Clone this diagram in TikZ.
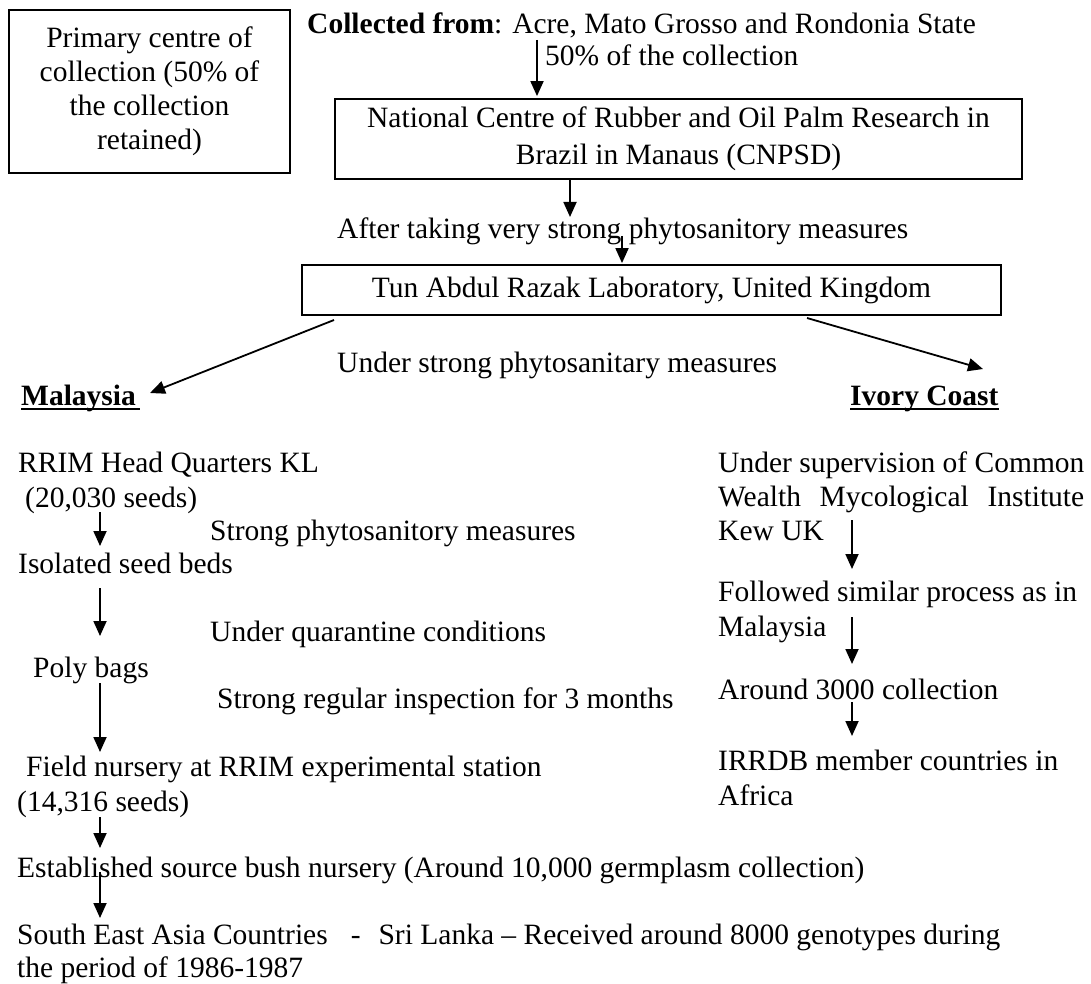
\documentclass[tikz,border=0pt]{standalone}
\usepackage{fontspec}
\setmainfont{Liberation Serif}
\usetikzlibrary{arrows.meta,positioning,calc}
\tikzset{
  txt/.style={anchor=base west, inner sep=0pt, font=\fontsize{29.5}{34}\selectfont},
  boxed/.style={draw, line width=1.8pt, inner sep=0pt, align=center,
                font=\fontsize{29.5}{34}\selectfont},
  arr/.style={-{Triangle[length=15pt,width=13pt]}, line width=1.8pt},
  uline/.style={line width=2.2pt},
}
\begin{document}
\begin{tikzpicture}[x=1pt,y=-1pt]
\useasboundingbox (0,0) rectangle (1091,984);
% top part
\node[boxed, minimum width=281pt, minimum height=163pt] (prim) at (149.5,91.5) {Primary centre of\\collection (50\% of\\the collection\\retained)};
\node[txt] (coll) at (307,34) {\textbf{Collected from}: Acre, Mato Grosso and Rondonia State};
\node[txt] (pct) at (545,66) {50\% of the collection};
\node[boxed, minimum width=687pt, minimum height=80pt] (cnp) at (678.5,139) {National Centre of Rubber and Oil Palm Research in\\[3pt]Brazil in Manaus (CNPSD)};
\node[txt] (after) at (337,238) {After taking very strong phytosanitory measures};
\node[boxed, minimum width=699pt, minimum height=50pt] (tun) at (651.5,290) {Tun Abdul Razak Laboratory, United Kingdom};
\node[txt] (ustrong) at (337,372) {Under strong phytosanitary measures};
\node[txt] (mal) at (21,405) {\textbf{Malaysia}};
\node[txt] (ivc) at (850,405) {\textbf{Ivory Coast}};
\draw[uline] ($(mal.base west)+(0,4)$) -- ($(mal.base east)+(4,4)$);
\draw[uline] ($(ivc.base west)+(0,4)$) -- ($(ivc.base east)+(0,4)$);

\coordinate (c1) at (537,40);
\coordinate (c2) at (570,217);
\coordinate (c3) at (622,236);
\draw[arr, shorten >=2pt] (c1) -- (cnp.north -| c1);
\draw[arr] (cnp.south -| c2) -- (c2);
\draw[arr, shorten >=1pt] (c3) -- (tun.north -| c3);
\coordinate (m0) at (334,320);
\coordinate (m1) at (150,393);
\coordinate (v0) at (807,318);
\coordinate (v1) at (983,369);
\draw[arr] (m0) -- (m1);
\draw[arr] (v0) -- (v1);

% Malaysia column
\node[txt] (rrim) at (18,472) {RRIM Head Quarters KL};
\node[txt] (rrimb) at (25,507) {(20,030 seeds)};
\node[txt] (sphyto) at (210,540) {Strong phytosanitory measures};
\node[txt] (iso) at (18,573) {Isolated seed beds};
\node[txt] (quar) at (210,641) {Under quarantine conditions};
\node[txt] (poly) at (33,677) {Poly bags};
\node[txt] (sreg) at (217,708) {Strong regular inspection for 3 months};
\node[txt] (field) at (26,776) {Field nursery at RRIM experimental station};
\node[txt] (fieldb) at (17,811) {(14,316 seeds)};
\node[txt] (est) at (17,877) {Established source bush nursery (Around 10,000 germplasm collection)};
\node[txt] (sea) at (17,944) {South East Asia Countries\hspace{23pt}-\hspace{18pt}Sri Lanka – Received around 8000 genotypes during};
\node[txt] (seab) at (17,977) {the period of 1986-1987};

\coordinate (l1) at (100,512);
\coordinate (l2) at (100,546);
\coordinate (l3) at (100,588);
\coordinate (l4) at (100,636);
\coordinate (l5) at (100,683);
\coordinate (l6) at (100,752);
\coordinate (l7) at (100,817);
\coordinate (l8) at (100,848);
\coordinate (l9) at (100,872);
\coordinate (l10) at (100,918);
\draw[arr] (l1) -- (l2);
\draw[arr] (l3) -- (l4);
\draw[arr] (l5) -- (l6);
\draw[arr] (l7) -- (l8);
\draw[arr] (l9) -- (l10);

% Ivory Coast column
\node[txt] (sup) at (718,472) {Under supervision of Common};
\node[txt] (supb) at (718,506) {\makebox[366pt][s]{Wealth Mycological Institute}};
\node[txt] (supc) at (718,540) {Kew UK};
\node[txt] (fol) at (718,601) {Followed similar process as in};
\node[txt] (folb) at (718,636) {Malaysia};
\node[txt] (aro) at (718,699) {Around 3000 collection};
\node[txt] (irr) at (718,770) {IRRDB member countries in};
\node[txt] (irrb) at (718,805) {Africa};

\coordinate (r1) at (852,520);
\coordinate (r2) at (852,569);
\coordinate (r3) at (852,617);
\coordinate (r4) at (852,664);
\coordinate (r5) at (852,702);
\coordinate (r6) at (852,736);
\draw[arr] (r1) -- (r2);
\draw[arr] (r3) -- (r4);
\draw[arr] (r5) -- (r6);
\end{tikzpicture}
\end{document}
